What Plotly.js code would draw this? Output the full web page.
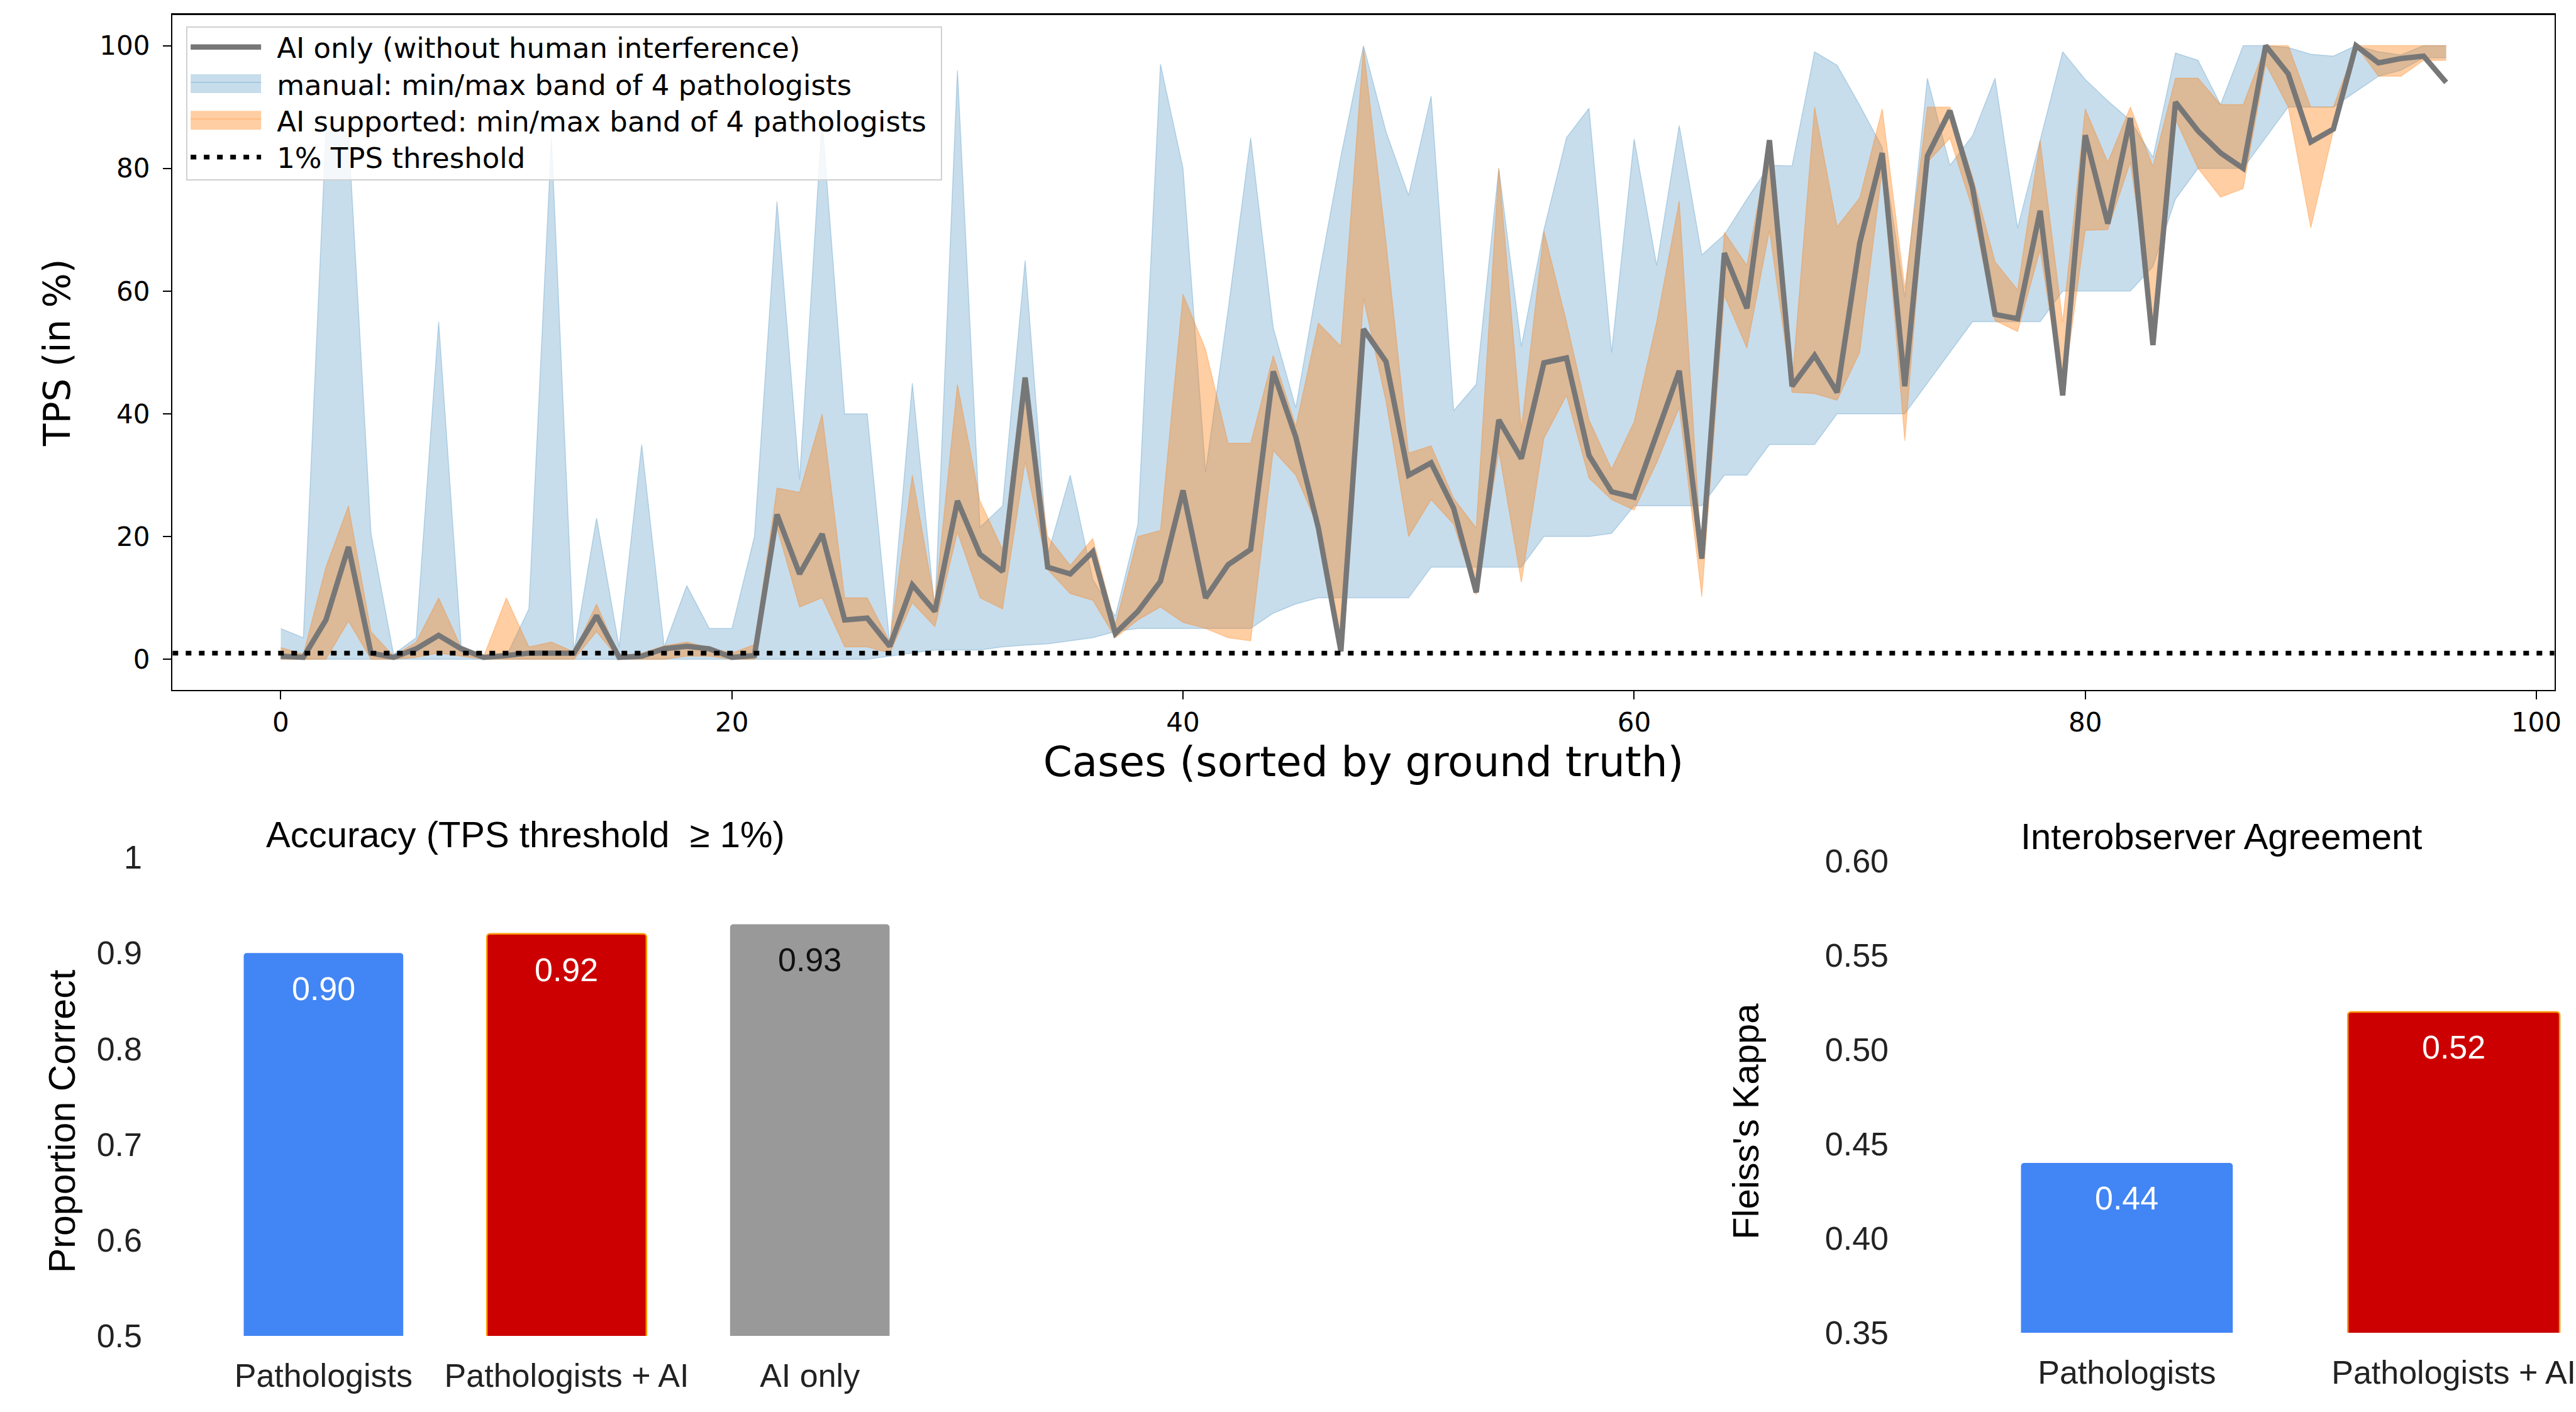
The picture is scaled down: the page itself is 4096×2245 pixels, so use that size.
<!DOCTYPE html>
<html><head><meta charset="utf-8">
<script src="https://cdn.plot.ly/plotly-3.0.1.min.js"></script>
<style>html,body{margin:0;padding:0;background:#fff;overflow:hidden}#chart{width:4096px;height:2245px}</style>
</head><body><div id="chart"></div>
<script>
// ---------- Top chart data (cases sorted by ground truth) ----------
const aiOnly = [0.5,0.3,6.4,18.3,1.0,0.3,1.7,3.9,1.7,0.3, 0.6,1.0,1.0,1.0,7.1,0.3,0.5,1.7,2.1,1.7,
  0.3,0.6,23.6,13.9,20.4,6.4,6.7,2.1,12.1,7.8, 25.8,17.1,14.3,45.9,15.0,13.9,17.5,4.2,7.8,12.7,
  27.5,10.0,15.4,17.9,46.9,36.2,21.4,1.3,53.8,48.5, 30.0,32.0,24.6,10.9,39.0,32.7,48.3,49.1,33.2,27.3,
  26.4,36.5,47.0,16.4,66.2,57.2,84.6,44.5,49.5,43.5, 67.8,82.5,44.5,82.0,89.4,76.9,56.2,55.5,73.1,43.0,
  85.4,71.0,88.2,51.2,90.8,86.1,82.5,80.0,100,95.4, 84.3,86.4,100,97.2,97.9,98.3,94.0];
const manualMin = [0,0,0,0,0,0,0,0,0,0, 0,0,0,0,0,0,0,0,0,0,
  0,0,0,0,0,0,0,0.5,1,1.5, 1.5,1.5,2,2.3,2.5,3,3.5,4.5,5,5,
  5,5,5,5,7.5,9,10,10,10,10, 10,15,15,15,15,15,20,20,20,20.5,
  25,25,25,25,30,30,35,35,35,40, 40,40,40,45,50,55,55,55,55,60,
  60,60,60,64,75,80,80,80,85,90, 90,90,92.5,95,96,98,98];
const manualMax = [5,3.5,86,86,20.5,0.8,3.5,55,2.2,0.5, 0.5,8.2,85,1.3,23,2,35,2,12,5,
  5,20,74.6,29.3,88,40,40,2.5,45,8, 96,21.5,25,65,17,30,13,7,22,97,
  80,30.5,57,85,54,41,62,82,100,86, 75.6,91.8,40.5,44.8,80,51,70,85,89.8,50,
  84.8,64.2,87,65.9,69.2,75,80.5,80.4,99,96.8, 90.3,83.4,59,94.7,80.5,85.3,94.7,70.3,84.6,99,
  94.5,91,87.8,81.8,98.8,97.6,90.4,100,100,99.7, 98.6,98.3,100,99,98.5,100,100];
const supportedMin = [0,0,0,6.2,0,0,0.3,1,0.5,0, 0,0,0,0,4.5,0,0,0,0.5,0.5,
  0,0,21.4,8.5,10,2,2,1,9.2,5.3, 20.7,10,8.2,32.2,14.6,10.7,9.6,3.5,6.4,8.5,
  6,5,3.5,3,34,30,21.4,1.3,58.8,42, 20,26,22,10.5,34,12.5,36,43,29.5,26,
  24.3,32,41,10.2,59.3,50.7,69.9,43.5,43.3,42.2, 50,79.9,35.6,81,84.9,73.4,55.2,53.4,66.7,43,
  69.9,70,81,55,88,80,75.3,76.7,97,90, 70.3,86.1,100,95,95,97.6,97.6];
const supportedMax = [1.9,0.8,15,25,4.5,0.5,2.8,10,1.9,0.5, 10,2,2.8,1.2,9,0.5,1,2.2,2.8,1.9,
  1,2.4,27.9,27.2,40,10,10,2.8,30,9.2, 44.8,25.8,17.9,45.9,20,15.3,19.7,5.6,20,21,
  59.5,50.5,35.2,35.2,49.5,38,54.8,51,99.7,68, 33.6,34.8,26.2,21.4,80,37.5,69.8,55,39,31,
  38.7,55,74.7,16.3,69.6,64.2,84.6,45,90,70.5, 75.2,89.7,60.5,90,90,78.7,64.8,60.2,84.6,55,
  89.7,81,90,80.3,94.7,94.7,90.4,90.4,100,100, 90,90,100,100,100,100,100];
const thresholdTPS = 1;
const topXTicks = [0,20,40,60,80,100];
const topYTicks = [0,20,40,60,80,100];
const caseIdx = aiOnly.map((_, i) => i);

// ---------- Bottom-left: accuracy ----------
const accCats = ['Pathologists','Pathologists + AI','AI only'];
const accVals = [0.90, 0.92, 0.93];
const accTicks = [0.5,0.6,0.7,0.8,0.9,1];
const accTickText = ['0.5','0.6','0.7','0.8','0.9','1'];

// ---------- Bottom-right: Fleiss's kappa ----------
const kappaCats = ['Pathologists','Pathologists + AI'];
const kappaVals = [0.44, 0.52];
const kappaTicks = [0.35,0.40,0.45,0.50,0.55,0.60];
const kappaTickText = ['0.35','0.40','0.45','0.50','0.55','0.60'];

// ---------- styles ----------
const MPL = 'DejaVu Sans, sans-serif';
const SANS = 'Liberation Sans, Arial, sans-serif';
const blueFill = 'rgba(31,119,180,0.25)';
const orangeFill = 'rgba(255,127,14,0.38)';
const accColors = ['#4285F4','#CC0000','#999999'];
const accTextColors = ['#ffffff','#ffffff','#111111'];
const accLineColors = ['rgba(0,0,0,0)','#FF9900','rgba(0,0,0,0)'];
const accLineWidths = [0,2.5,0];
const kappaColors = ['#4285F4','#CC0000'];
const kappaLineColors = ['rgba(0,0,0,0)','#FF9900'];
const kappaLineWidths = [0,2.5];
const xRangeTop = [-4.8, 100.8];

const traces = [
  {x: caseIdx, y: manualMin, type:'scatter', mode:'lines', line:{color:blueFill, width:1.5},
   showlegend:false, xaxis:'x', yaxis:'y', hoverinfo:'skip'},
  {x: caseIdx, y: manualMax, type:'scatter', mode:'lines', fill:'tonexty', fillcolor:blueFill,
   line:{color:blueFill, width:1.5}, name:'manual: min/max band of 4 pathologists', legendrank:2,
   xaxis:'x', yaxis:'y'},
  {x: caseIdx, y: supportedMin, type:'scatter', mode:'lines', line:{color:'rgba(255,127,14,0.3)', width:1.5},
   showlegend:false, xaxis:'x', yaxis:'y', hoverinfo:'skip'},
  {x: caseIdx, y: supportedMax, type:'scatter', mode:'lines', fill:'tonexty', fillcolor:orangeFill,
   line:{color:'rgba(255,127,14,0.3)', width:1.5}, name:'AI supported: min/max band of 4 pathologists', legendrank:3,
   xaxis:'x', yaxis:'y'},
  {x: caseIdx, y: aiOnly, type:'scatter', mode:'lines', line:{color:'#777777', width:8.5},
   name:'AI only (without human interference)', legendrank:1, xaxis:'x', yaxis:'y'},
  {x: xRangeTop, y: [thresholdTPS, thresholdTPS], type:'scatter', mode:'lines',
   line:{color:'#000000', width:7.5, dash:'9px,12px'}, name:'1% TPS threshold', legendrank:4,
   xaxis:'x', yaxis:'y'},
  {x: accCats, y: accVals, type:'bar', width:0.656, xaxis:'x2', yaxis:'y2', showlegend:false,
   marker:{color:accColors, cornerradius:5, line:{color:accLineColors, width:accLineWidths}}},
  {x: kappaCats, y: kappaVals, type:'bar', width:0.648, xaxis:'x3', yaxis:'y3', showlegend:false,
   marker:{color:kappaColors, cornerradius:5, line:{color:kappaLineColors, width:kappaLineWidths}}}
];

const annotations = [];
accCats.forEach((c, i) => annotations.push({xref:'x2', yref:'y2', x:c, y:accVals[i], yshift:-57,
  text: accVals[i].toFixed(2), showarrow:false, font:{family:SANS, size:52, color:accTextColors[i]}}));
kappaCats.forEach((c, i) => annotations.push({xref:'x3', yref:'y3', x:c, y:kappaVals[i], yshift:-56,
  text: kappaVals[i].toFixed(2), showarrow:false, font:{family:SANS, size:52, color:'#ffffff'}}));
annotations.push({xref:'paper', yref:'paper', x:0.2041, y:0.4093, xanchor:'center', yanchor:'middle',
  text:'Accuracy (TPS threshold  ≥ 1%)', showarrow:false, font:{family:SANS, size:58, color:'#000'}});
annotations.push({xref:'paper', yref:'paper', x:0.8623, y:0.4076, xanchor:'center', yanchor:'middle',
  text:'Interobserver Agreement', showarrow:false, font:{family:SANS, size:58, color:'#000'}});
annotations.push({xref:'paper', yref:'paper', x:0.02417, y:0.2058, xanchor:'center', yanchor:'middle', textangle:-90,
  text:'Proportion Correct', showarrow:false, font:{family:SANS, size:59, color:'#000'}});
annotations.push({xref:'paper', yref:'paper', x:0.6777, y:0.2058, xanchor:'center', yanchor:'middle', textangle:-90,
  text:"Fleiss's Kappa", showarrow:false, font:{family:SANS, size:58, color:'#000'}});

const layout = {
  width:4096, height:2245, margin:{l:0,r:0,t:0,b:0}, paper_bgcolor:'#fff', plot_bgcolor:'#fff',
  hovermode:false, showlegend:true,
  legend:{x:0.0723, y:0.9813, xanchor:'left', yanchor:'top', bgcolor:'rgba(255,255,255,0.8)',
    bordercolor:'#d0d0d0', borderwidth:2, font:{family:MPL, size:45, color:'#000'}, itemwidth:112,
    traceorder:'normal'},
  xaxis:{domain:[0.06697,0.99162], range:xRangeTop, anchor:'y', tickvals:topXTicks, ticks:'outside', ticklen:13,
    tickwidth:2, tickcolor:'#000', showline:true, mirror:true, linecolor:'#000', linewidth:2.5,
    showgrid:false, zeroline:false, automargin:false, ticklabelstandoff:0,
    tickfont:{family:MPL, size:42, color:'#000'},
    title:{text:'Cases (sorted by ground truth)', font:{family:MPL, size:66, color:'#000'}, standoff:0}},
  yaxis:{domain:[0.5114,0.9894], range:[-5,105], anchor:'x', tickvals:topYTicks, ticks:'outside', ticklen:13,
    tickwidth:2, tickcolor:'#000', showline:true, mirror:true, linecolor:'#000', linewidth:2.5,
    showgrid:false, zeroline:false, automargin:false, ticklabelstandoff:12,
    tickfont:{family:MPL, size:42, color:'#000'},
    title:{text:'TPS (in %)', font:{family:MPL, size:58, color:'#000'}, standoff:28}},
  xaxis2:{domain:[0.07837,0.36157], range:[-0.5,2.5], anchor:'y2', type:'category', showline:false, ticks:'',
    showgrid:false, zeroline:false, automargin:false, ticklabelstandoff:28,
    tickfont:{family:SANS, size:52, color:'#222'}},
  yaxis2:{domain:[0.0539,0.3929], range:[0.5,1], anchor:'x2', tickvals:accTicks, ticktext:accTickText,
    showline:false, ticks:'', showgrid:false, zeroline:false, automargin:false, ticklabelstandoff:94,
    tickfont:{family:SANS, size:52, color:'#222'}},
  xaxis3:{domain:[0.76221,1], range:[-0.5,1.374], anchor:'y3', type:'category', showline:false, ticks:'',
    showgrid:false, zeroline:false, automargin:false, ticklabelstandoff:28,
    tickfont:{family:SANS, size:52, color:'#222'}},
  yaxis3:{domain:[0.05612,0.3902], range:[0.35,0.60], anchor:'x3', tickvals:kappaTicks, ticktext:kappaTickText,
    showline:false, ticks:'', showgrid:false, zeroline:false, automargin:false, ticklabelstandoff:118,
    tickfont:{family:SANS, size:52, color:'#222'}},
  annotations: annotations
};

Plotly.newPlot('chart', traces, layout, {displayModeBar:false, staticPlot:true}).then(gd => {
  try {
    // matplotlib-like rectangular swatches for the bands
    gd.querySelectorAll('.legend .legendfill path').forEach(p => {
      const bb = p.getBBox();
      if (bb.width > 0) p.setAttribute('d', 'M' + bb.x + ',-15h' + bb.width + 'v30h-' + bb.width + 'z');
    });
    // tighter matplotlib-like row spacing and a wider gap between handle and label
    const TEXT_SHIFT = 20, EXTRA_RIGHT = 18, ROW = 58.3, UP = 5;
    const items = Array.from(gd.querySelectorAll('.legend .traces'));
    const parse = t => { const m = /translate\(\s*([-\d.e]+)[\s,]+([-\d.e]+)\s*\)/.exec(t || ''); return m ? [+m[1], +m[2]] : null; };
    const pos = items.map(it => parse(it.getAttribute('transform')));
    if (items.length && pos.every(p => p)) {
      const y0 = Math.min(...pos.map(p => p[1]));
      const order = pos.map((p, i) => i).sort((a, b) => pos[a][1] - pos[b][1]);
      order.forEach((idx, k) => items[idx].setAttribute('transform',
        'translate(' + pos[idx][0] + ',' + (y0 - UP + k * ROW) + ')'));
      gd.querySelectorAll('.legend .legendtext').forEach(t => {
        t.setAttribute('x', (parseFloat(t.getAttribute('x')) || 0) + TEXT_SHIFT);
      });
      const newH = 243;
      const bg = gd.querySelector('.legend rect.bg');
      if (bg) {
        const oldW = parseFloat(bg.getAttribute('width'));
        bg.setAttribute('width', oldW + TEXT_SHIFT + EXTRA_RIGHT);
        bg.setAttribute('height', newH);
      }
      document.querySelectorAll('clipPath[id^="legend"] rect').forEach(r => {
        const w = parseFloat(r.getAttribute('width'));
        if (!isNaN(w)) r.setAttribute('width', w + TEXT_SHIFT + EXTRA_RIGHT);
        r.setAttribute('height', newH);
      });
    }
  } catch (e) { /* keep default legend */ }
});
</script></body></html>
